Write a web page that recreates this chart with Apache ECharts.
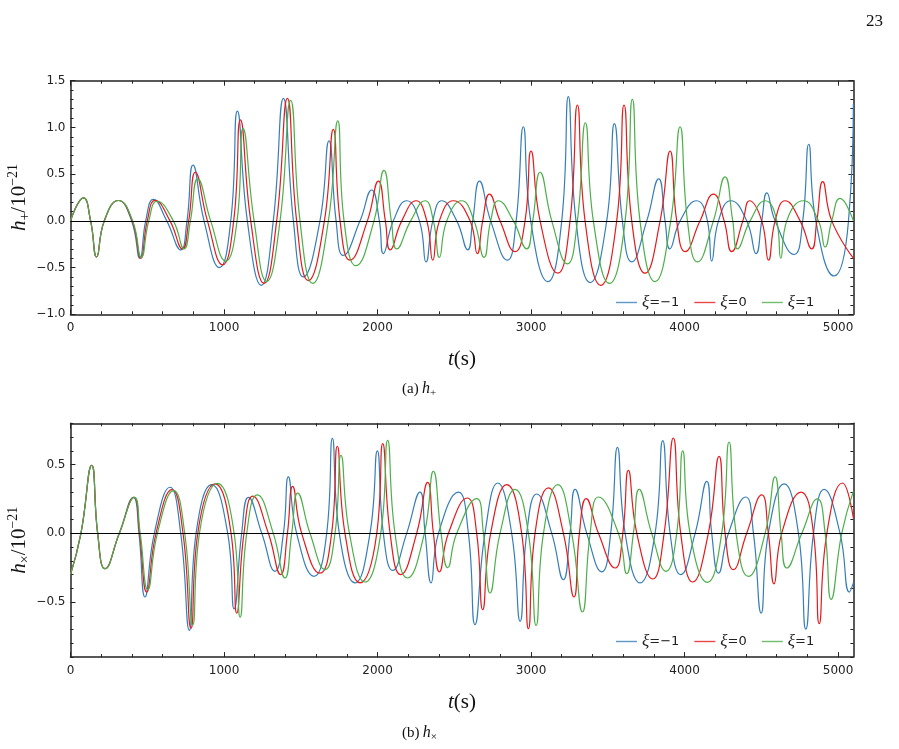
<!DOCTYPE html>
<html>
<head>
<meta charset="utf-8">
<script src="https://cdn.jsdelivr.net/npm/echarts@6/dist/echarts.min.js"></script>
<style>
  html, body { margin: 0; padding: 0; background: #fff; }
  #chart { width: 899px; height: 749px; }
</style>
</head>
<body>
<div id="chart"></div>
<script>
// series names
const names = ['ξ=−1', 'ξ=0', 'ξ=1']
const colors = ['#377eb8', '#e41a1c', '#4daf4a']

// h_plus as [t (s), value]: extrema and zero crossings
const plusM1 = [[0,0],[84,0.246],[131,0],[170,-0.386],[220,0],[312,0.218],[398,0],[452,-0.40],[490,0],[540,0.23],[627,0],[718,-0.31],[759,0],[798,0.596],[870,0],[970,-0.50],[1044,0],[1087,1.175],[1152,0],[1243,-0.69],[1321,0],[1387,1.31],[1452,0],[1517,-0.60],[1625,0],[1684,0.857],[1730,0],[1777,-0.37],[1886,0],[1962,0.33],[2012,0],[2038,-0.35],[2103,0],[2190,0.215],[2273,0],[2316,-0.44],[2360,0],[2418,0.215],[2516,0],[2588,-0.31],[2620,0],[2664,0.425],[2737,0],[2846,-0.42],[2903,0],[2950,1.007],[2998,0],[3109,-0.65],[3200,0],[3243,1.33],[3293,0],[3385,-0.66],[3493,0],[3543,1.04],[3595,0],[3656,-0.44],[3754,0],[3832,0.45],[3873,0],[3904,-0.30],[3971,0],[4079,0.215],[4149,0],[4177,-0.43],[4221,0],[4301,0.215],[4405,0],[4466,-0.35],[4503,0],[4536,0.30],[4590,0],[4714,-0.36],[4770,0],[4809,0.82],[4855,0],[4974,-0.59],[5068,0],[5100,1.25]]
const plus0 = [[0,0],[84,0.246],[131,0],[170,-0.386],[220,0],[312,0.218],[402,0],[458,-0.40],[500,0],[551,0.22],[648,0],[729,-0.30],[770,0],[813,0.52],[892,0],[991,-0.47],[1063,0],[1107,1.08],[1174,0],[1261,-0.67],[1343,0],[1413,1.31],[1473,0],[1549,-0.64],[1654,0],[1712,0.98],[1756,0],[1821,-0.42],[1934,0],[2006,0.425],[2051,0],[2082,-0.31],[2158,0],[2251,0.215],[2321,0],[2360,-0.42],[2403,0],[2494,0.215],[2603,0],[2650,-0.35],[2685,0],[2729,0.286],[2798,0],[2896,-0.33],[2961,0],[3000,0.746],[3059,0],[3174,-0.56],[3254,0],[3302,1.24],[3352,0],[3454,-0.69],[3558,0],[3606,1.24],[3656,0],[3743,-0.56],[3841,0],[3906,0.746],[3949,0],[4004,-0.33],[4101,0],[4188,0.286],[4258,0],[4307,-0.33],[4380,0],[4423,0.215],[4503,0],[4547,-0.42],[4590,0],[4655,0.215],[4753,0],[4829,-0.30],[4862,0],[4900,0.42],[4959,0],[5100,-0.40]]
const plusP1 = [[0,0],[84,0.246],[131,0],[170,-0.386],[220,0],[312,0.218],[405,0],[461,-0.39],[510,0],[564,0.21],[670,0],[740,-0.30],[781,0],[829,0.45],[913,0],[1011,-0.43],[1085,0],[1124,0.99],[1196,0],[1278,-0.65],[1365,0],[1434,1.29],[1495,0],[1578,-0.67],[1680,0],[1741,1.07],[1782,0],[1860,-0.48],[1977,0],[2042,0.54],[2090,0],[2125,-0.30],[2216,0],[2310,0.215],[2364,0],[2403,-0.39],[2451,0],[2548,0.215],[2629,0],[2694,-0.39],[2737,0],[2787,0.215],[2885,0],[2972,-0.30],[3011,0],[3059,0.52],[3135,0],[3237,-0.46],[3302,0],[3354,1.05],[3406,0],[3511,-0.67],[3613,0],[3660,1.30],[3710,0],[3808,-0.65],[3910,0],[3971,1.007],[4019,0],[4084,-0.44],[4188,0],[4264,0.47],[4314,0],[4344,-0.30],[4427,0],[4525,0.215],[4601,0],[4627,-0.40],[4666,0],[4775,0.215],[4872,0],[4916,-0.28],[4959,0],[5013,0.24],[5100,0]]

// h_cross
const crossM1 = [[0,-0.30],[68,0],[138,0.495],[177,0],[225,-0.257],[318,0],[410,0.262],[446,0],[485,-0.463],[546,0],[648,0.335],[718,0],[774,-0.705],[818,0],[920,0.354],[1024,0],[1066,-0.55],[1115,0],[1159,0.262],[1246,0],[1332,-0.276],[1387,0],[1419,0.41],[1473,0],[1586,-0.313],[1669,0],[1706,0.69],[1751,0],[1854,-0.36],[1951,0],[1999,0.60],[2038,0],[2099,-0.27],[2190,0],[2277,0.30],[2310,0],[2349,-0.36],[2397,0],[2527,0.30],[2592,0],[2635,-0.664],[2700,0],[2783,0.366],[2874,0],[2929,-0.64],[2972,0],[3037,0.286],[3135,0],[3211,-0.337],[3254,0],[3287,0.32],[3363,0],[3461,-0.28],[3519,0],[3563,0.625],[3613,0],[3710,-0.36],[3808,0],[3858,0.674],[3906,0],[3975,-0.30],[4069,0],[4145,0.378],[4177,0],[4221,-0.29],[4286,0],[4399,0.264],[4449,0],[4499,-0.58],[4546,0],[4649,0.36],[4742,0],[4790,-0.696],[4840,0],[4909,0.32],[5013,0],[5074,-0.427],[5100,-0.36]]
const cross0 = [[0,-0.30],[68,0],[138,0.495],[177,0],[225,-0.257],[318,0],[414,0.262],[450,0],[496,-0.427],[557,0],[661,0.318],[733,0],[785,-0.69],[829,0],[942,0.36],[1046,0],[1083,-0.58],[1130,0],[1187,0.27],[1289,0],[1369,-0.30],[1413,0],[1447,0.342],[1506,0],[1625,-0.29],[1701,0],[1738,0.633],[1788,0],[1886,-0.36],[1995,0],[2034,0.652],[2082,0],[2151,-0.30],[2255,0],[2327,0.37],[2364,0],[2403,-0.28],[2462,0],[2585,0.257],[2646,0],[2685,-0.555],[2737,0],[2842,0.354],[2939,0],[2983,-0.693],[3026,0],[3113,0.33],[3211,0],[3280,-0.463],[3315,0],[3359,0.252],[3439,0],[3548,-0.252],[3598,0],[3634,0.458],[3689,0],[3793,-0.332],[3867,0],[3927,0.693],[3975,0],[4053,-0.354],[4155,0],[4225,0.56],[4264,0],[4318,-0.264],[4405,0],[4503,0.28],[4546,0],[4583,-0.368],[4633,0],[4759,0.30],[4840,0],[4877,-0.657],[4927,0],[5029,0.366],[5100,0.11]]
const crossP1 = [[0,-0.30],[68,0],[138,0.495],[177,0],[225,-0.257],[318,0],[416,0.262],[454,0],[503,-0.41],[566,0],[672,0.31],[744,0],[796,-0.665],[840,0],[957,0.363],[1066,0],[1105,-0.61],[1148,0],[1217,0.28],[1321,0],[1397,-0.325],[1441,0],[1480,0.293],[1560,0],[1658,-0.264],[1723,0],[1762,0.567],[1817,0],[1919,-0.354],[2021,0],[2066,0.676],[2114,0],[2195,-0.325],[2305,0],[2364,0.45],[2414,0],[2457,-0.25],[2516,0],[2646,0.252],[2690,0],[2733,-0.434],[2798,0],[2896,0.32],[2983,0],[3033,-0.67],[3081,0],[3174,0.354],[3265,0],[3335,-0.572],[3385,0],[3439,0.264],[3569,0],[3624,-0.293],[3667,0],[3704,0.32],[3786,0],[3880,-0.276],[3949,0],[3988,0.60],[4036,0],[4149,-0.356],[4242,0],[4290,0.664],[4336,0],[4416,-0.313],[4525,0],[4590,0.41],[4629,0],[4666,-0.252],[4764,0],[4866,0.25],[4916,0],[4955,-0.48],[5024,0],[5100,0.305]]

// ticks
const xMajor = [0, 1000, 2000, 3000, 4000, 5000]
const xMinor = [200, 400, 600, 800, 1200, 1400, 1600, 1800, 2200, 2400, 2600, 2800, 3200, 3400, 3600, 3800, 4200, 4400, 4600, 4800]
const yMajorTop = [-1, -0.5, 0, 0.5, 1, 1.5]
const yMinorTop = [-0.9, -0.8, -0.7, -0.6, -0.4, -0.3, -0.2, -0.1, 0.1, 0.2, 0.3, 0.4, 0.6, 0.7, 0.8, 0.9, 1.1, 1.2, 1.3, 1.4]
const yMajorBot = [-0.5, 0, 0.5]
const yMinorBot = [-0.9, -0.8, -0.7, -0.6, -0.4, -0.3, -0.2, -0.1, 0.1, 0.2, 0.3, 0.4, 0.6, 0.7, 0.8]

const frame = '#222'
const serif = 'Liberation Serif'
const sans = 'DejaVu Sans'

const nameRich = {
    i: {fontFamily: serif, fontStyle: 'italic', fontSize: 21, lineHeight: 26, color: '#111'},
    n: {fontFamily: serif, fontSize: 21, lineHeight: 26, color: '#111'},
    sub: {fontFamily: serif, fontSize: 14, lineHeight: 14, verticalAlign: 'bottom', color: '#111'},
    sup: {fontFamily: serif, fontSize: 14, lineHeight: 14, verticalAlign: 'top', color: '#111'}
}

function fmt(v) {
    return v.toFixed(1).replace('-', '\u2212')
}

function xAxes(gi) {
    const base = {type: 'value', gridIndex: gi, min: 0, max: 5100, splitLine: {show: false}}
    return [
        Object.assign({}, base, {
            position: 'bottom',
            axisLine: {onZero: false, lineStyle: {color: frame, width: 1.5}},
            axisTick: {inside: true, length: 5, customValues: xMajor, lineStyle: {color: frame}},
            axisLabel: {customValues: xMajor, margin: 8, color: '#222', fontFamily: sans, fontSize: 12, formatter: v => String(v)},
            name: '{i|t}{n|(s)}',
            nameLocation: 'middle',
            nameGap: 32,
            nameMoveOverlap: false,
            nameTextStyle: {rich: nameRich}
        }),
        Object.assign({}, base, {
            position: 'bottom',
            axisLine: {show: false, onZero: false},
            axisTick: {inside: true, length: 3, customValues: xMinor, lineStyle: {color: frame}},
            axisLabel: {show: false}
        }),
        Object.assign({}, base, {
            position: 'top',
            axisLine: {onZero: false, lineStyle: {color: frame, width: 1.5}},
            axisTick: {inside: true, length: 5, customValues: xMajor, lineStyle: {color: frame}},
            axisLabel: {show: false}
        }),
        Object.assign({}, base, {
            position: 'top',
            axisLine: {show: false, onZero: false},
            axisTick: {inside: true, length: 3, customValues: xMinor, lineStyle: {color: frame}},
            axisLabel: {show: false}
        })
    ]
}

function yAxes(gi, min, max, major, minor, name) {
    const base = {type: 'value', gridIndex: gi, min: min, max: max, splitLine: {show: false}}
    return [
        Object.assign({}, base, {
            position: 'left',
            axisLine: {onZero: false, lineStyle: {color: frame, width: 1.5}},
            axisTick: {inside: true, length: 5, customValues: major, lineStyle: {color: frame}},
            axisLabel: {customValues: major, margin: 5, color: '#222', fontFamily: sans, fontSize: 12, formatter: fmt},
            name: name,
            nameLocation: 'middle',
            nameRotate: 90,
            nameGap: 38,
            nameMoveOverlap: false,
            nameTextStyle: {rich: nameRich}
        }),
        Object.assign({}, base, {
            position: 'left',
            axisLine: {show: false, onZero: false},
            axisTick: {inside: true, length: 3, customValues: minor, lineStyle: {color: frame}},
            axisLabel: {show: false}
        }),
        Object.assign({}, base, {
            position: 'right',
            axisLine: {onZero: false, lineStyle: {color: frame, width: 1.5}},
            axisTick: {inside: true, length: 5, customValues: major, lineStyle: {color: frame}},
            axisLabel: {show: false}
        }),
        Object.assign({}, base, {
            position: 'right',
            axisLine: {show: false, onZero: false},
            axisTick: {inside: true, length: 3, customValues: minor, lineStyle: {color: frame}},
            axisLabel: {show: false}
        })
    ]
}

function line(name, data, color, axisIdx, zero) {
    const s = {
        name: name,
        type: 'line',
        data: data,
        xAxisIndex: axisIdx,
        yAxisIndex: axisIdx,
        smooth: 0.5,
        symbol: 'none',
        lineStyle: {color: color, width: 1.2},
        itemStyle: {color: color},
        silent: true
    }
    if (zero) {
        s.markLine = {
            silent: true,
            symbol: 'none',
            label: {show: false},
            lineStyle: {color: '#000', width: 1, type: 'solid'},
            data: [{yAxis: 0}]
        }
    }
    return s
}

function legendFor(top) {
    return {
        top: top,
        left: 611,
        icon: 'rect',
        itemWidth: 21,
        itemHeight: 1.4,
        itemGap: 15,
        itemStyle: {opacity: 0.8},
        data: names,
        formatter: n => '{x|ξ}{n|' + n.slice(1) + '}',
        textStyle: {
            rich: {
                x: {fontFamily: serif, fontStyle: 'italic', fontSize: 17, color: '#222'},
                n: {fontFamily: sans, fontSize: 13, color: '#222'}
            }
        }
    }
}

const chart = echarts.init(document.getElementById('chart'))
chart.setOption({
    animation: false,
    backgroundColor: '#fff',
    grid: [
        {left: 70.5, top: 80.7, width: 782.9, height: 233.6, outerBoundsMode: 'none', containLabel: false},
        {left: 70.5, top: 423.3, width: 782.9, height: 233.8, outerBoundsMode: 'none', containLabel: false}
    ],
    xAxis: xAxes(0).concat(xAxes(1)),
    yAxis: yAxes(0, -1, 1.5, yMajorTop, yMinorTop, '{i|h}{sub|+}{n|/10}{sup|\u221221}')
        .concat(yAxes(1, -0.9, 0.8, yMajorBot, yMinorBot, '{i|h}{sub|×}{n|/10}{sup|\u221221}')),
    legend: [legendFor(289), legendFor(628)],
    series: [
        line(names[0], plusM1, colors[0], 0, true),
        line(names[1], plus0, colors[1], 0, false),
        line(names[2], plusP1, colors[2], 0, false),
        line(names[0], crossM1, colors[0], 4, true),
        line(names[1], cross0, colors[1], 4, false),
        line(names[2], crossP1, colors[2], 4, false)
    ],
    graphic: [
        {type: 'text', right: 16, top: 13, style: {text: '23', font: '17px "Liberation Serif"', fill: '#111'}},
        {
            type: 'text', left: 402, top: 381,
            style: {
                text: '{a|(a)} {i|h}{s|+}',
                rich: {
                    a: {fontFamily: serif, fontSize: 15, lineHeight: 20, fill: '#111'},
                    i: {fontFamily: serif, fontStyle: 'italic', fontSize: 16, lineHeight: 20, fill: '#111'},
                    s: {fontFamily: serif, fontSize: 11, lineHeight: 11, verticalAlign: 'bottom', fill: '#111'}
                }
            }
        },
        {
            type: 'text', left: 402, top: 725,
            style: {
                text: '{a|(b)} {i|h}{s|×}',
                rich: {
                    a: {fontFamily: serif, fontSize: 15, lineHeight: 20, fill: '#111'},
                    i: {fontFamily: serif, fontStyle: 'italic', fontSize: 16, lineHeight: 20, fill: '#111'},
                    s: {fontFamily: serif, fontSize: 11, lineHeight: 11, verticalAlign: 'bottom', fill: '#111'}
                }
            }
        }
    ]
})
</script>
</body>
</html>
